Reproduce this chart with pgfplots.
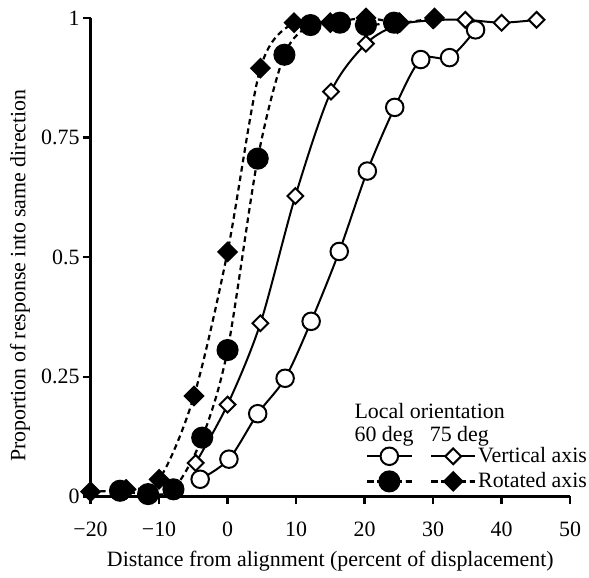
\documentclass[border=0pt]{standalone}
\usepackage{fontspec}
\setmainfont{Liberation Serif}
\usepackage{pgfplots}
\pgfplotsset{compat=1.18}

\pgfplotsset{
  vline/.style={black, solid, line width=1pt, smooth, tension=0.5},
  rline/.style={black, line width=1.1pt, dash pattern=on 2.8pt off 2pt, smooth, tension=0.5},
  ocirc/.style={mark=*, mark size=4.4pt, mark options={solid, fill=white, draw=black, line width=1pt}},
  odiam/.style={mark=square*, mark size=2.8pt, mark options={solid, rotate=45, fill=white, draw=black, line width=1pt}},
  fcirc/.style={mark=*, mark size=5pt, mark options={solid, fill=black, draw=black}},
  fdiam/.style={mark=square*, mark size=3.2pt, mark options={solid, rotate=45, fill=black, draw=black}},
}

\begin{document}
\begin{tikzpicture}[font=\fontsize{11}{13}\selectfont]
\begin{axis}[
  scale only axis, width=241pt, height=240.5pt,
  xmin=-20, xmax=50, ymin=0, ymax=1,
  axis x line*=bottom, axis y line*=left,
  axis line style={line width=1.2pt},
  tick align=outside, major tick length=4pt,
  tick style={line width=1.2pt, black},
  xtick={-20,-10,0,10,20,30,40,50},
  xticklabels={−20,−10,0,10,20,30,40,50},
  ytick={0,0.25,0.5,0.75,1},
  yticklabels={0,0.25,0.5,0.75,1},
  xticklabel style={yshift=-5.5pt},
  yticklabel style={xshift=2pt},
  xlabel={Distance from alignment (percent of displacement)},
  ylabel={Proportion of response into same direction},
  x label style={at={(axis description cs:0.5,0)}, anchor=base, yshift=-35pt},
  y label style={at={(axis description cs:-0.147,0.4615)}, anchor=center},
  clip=false,
  legend columns=2,
  legend cell align=left,
  legend style={at={(axis cs:20.2,0.108)}, anchor=north west, draw=none, fill=none,
    inner sep=0pt, row sep=1.5pt, nodes={inner sep=1pt}},
  legend image code/.code={\draw[mark repeat=2,mark phase=2,#1] plot coordinates {(0pt,0pt) (11pt,0pt) (22pt,0pt)};},
]
% 60 deg, vertical axis
\addplot[vline, ocirc] coordinates {
  (-4,0.036) (0.2,0.078) (4.4,0.173) (8.4,0.247) (12.2,0.366) (16.3,0.512)
  (20.4,0.68) (24.4,0.813) (28.2,0.913) (32.4,0.917) (36.2,0.975)};
\addlegendentry{\hspace*{7pt}}
% 75 deg, vertical axis
\addplot[vline, odiam] coordinates {
  (-4.65,0.07) (0,0.192) (4.8,0.362) (9.9,0.628) (15.1,0.846) (20.2,0.946)
  (24.8,0.985) (30,0.995) (34.7,0.996) (40,0.99) (45.1,0.996)};
\addlegendentry{Vertical axis}
% 60 deg, rotated axis
\addplot[rline, fcirc] coordinates {
  (-15.7,0.012) (-11.6,0.005) (-7.9,0.015) (-3.7,0.123) (0,0.306) (4.4,0.706)
  (8.3,0.923) (12.1,0.985) (16.4,0.99) (20.2,0.985) (24.3,0.99)};
\addlegendentry{\hspace*{7pt}}
% 75 deg, rotated axis
\addplot[rline, fdiam] coordinates {
  (-20,0.01) (-14.8,0.015) (-10,0.036) (-4.9,0.21) (0,0.511) (4.8,0.895)
  (9.7,0.99) (15,0.99) (20.2,1.0) (25.1,0.99) (30.2,1.0)};
\addlegendentry{Rotated axis}

\node[anchor=base west, inner sep=0pt] at (axis cs:18.48,0.162) {Local orientation};
\node[anchor=base west, inner sep=0pt] at (axis cs:18.48,0.114) {60 deg};
\node[anchor=base west, inner sep=0pt] at (axis cs:29.47,0.114) {75 deg};

\coordinate (ll) at (rel axis cs:0,0);
\coordinate (ur) at (rel axis cs:1,1);
\end{axis}
\path (ll) ++(-45.5pt,-39pt) (ur) ++(8pt,9pt);
\end{tikzpicture}
\end{document}
